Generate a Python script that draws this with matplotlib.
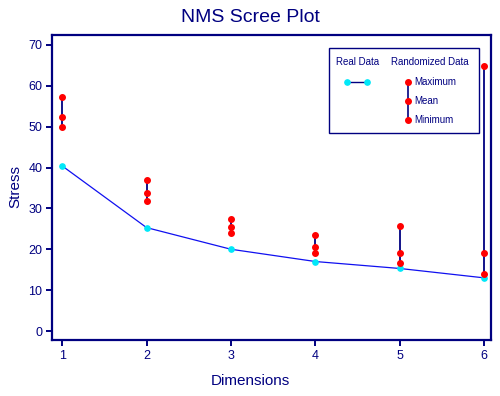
import matplotlib
matplotlib.use("Agg")
import matplotlib.pyplot as plt
from matplotlib.lines import Line2D
from matplotlib.patches import Rectangle

dims = [1, 2, 3, 4, 5, 6]
real_stress = [40.4, 25.3, 20.0, 17.0, 15.3, 13.0]
rand_max = [57.2, 36.9, 27.4, 23.5, 25.6, 64.9]
rand_mean = [52.3, 33.7, 25.5, 20.6, 19.2, 19.0]
rand_min = [50.0, 31.9, 24.0, 19.1, 16.6, 13.9]
y_ticks = [0, 10, 20, 30, 40, 50, 60, 70]

NAVY = "#000080"
BLUE = "#1010f0"
RED = "#ff0000"
CYAN = "#00e8f8"
plt.rcParams['font.family'] = ['Liberation Sans', 'DejaVu Sans']

fig = plt.figure(figsize=(5.0, 3.96), dpi=100)
ax = fig.add_axes([0.104, 0.1414, 0.878, 0.770])

ax.plot(dims, real_stress, color=BLUE, lw=0.9, zorder=2)
ax.plot(dims, real_stress, ls='none', marker='o', ms=3.8, mfc=CYAN, mec=CYAN, zorder=4)
ax.vlines(dims, rand_min, rand_max, color=NAVY, lw=1.3, zorder=3)
for vals in (rand_max, rand_mean, rand_min):
    ax.plot(dims, vals, ls='none', marker='o', ms=4.0, mfc=RED, mec=RED, zorder=5)

ax.set_xlim(0.88, 6.08)
ax.set_ylim(-2.2, 72.4)
ax.set_xticks(dims)
ax.set_yticks(y_ticks)
for s in ax.spines.values():
    s.set_color(NAVY)
    s.set_linewidth(1.6)
ax.tick_params(colors=NAVY, labelcolor=NAVY, width=1.4, length=4, labelsize=9, pad=3)

fig.text(0.5, 1 - 17/396, "NMS Scree Plot", ha='center', va='center', fontsize=14, color=NAVY)
fig.text(15/500, 1 - 187/396, "Stress", ha='center', va='center', rotation=90, fontsize=11, color=NAVY)
fig.text(0.5, 1 - 381/396, "Dimensions", ha='center', va='center', fontsize=11, color=NAVY)

# legend box (drawn manually in axes coordinates)
T = ax.transAxes
def ax_x(px):
    return (px - 52) / 439
def ax_y(py):
    return (340 - py) / 305

ax.add_patch(Rectangle((ax_x(329), ax_y(133)), ax_x(479) - ax_x(329), ax_y(48) - ax_y(133),
                       transform=T, fill=False, ec=NAVY, lw=1.0, zorder=6))
ax.text(ax_x(336), ax_y(62), "Real Data", transform=T, fontsize=7, color=NAVY, va='center', ha='left')
ax.text(ax_x(391), ax_y(62), "Randomized Data", transform=T, fontsize=7, color=NAVY, va='center', ha='left')
ax.add_line(Line2D([ax_x(347.3), ax_x(367.3)], [ax_y(81.7), ax_y(81.7)], transform=T, color=NAVY, lw=1.0,
                   marker='o', ms=3.8, mfc=CYAN, mec=CYAN, zorder=7))
ax.add_line(Line2D([ax_x(408.3), ax_x(408.3)], [ax_y(81.7), ax_y(120.3)], transform=T, color=NAVY, lw=1.2, zorder=7))
for py, lab in ((81.7, "Maximum"), (101.3, "Mean"), (120.3, "Minimum")):
    ax.add_line(Line2D([ax_x(408.3)], [ax_y(py)], transform=T, ls='none', marker='o', ms=4.0,
                       mfc=RED, mec=RED, zorder=8))
    ax.text(ax_x(414.7), ax_y(py), lab, transform=T, fontsize=7, color=NAVY, va='center', ha='left')

fig.savefig("out.png", dpi=100)
